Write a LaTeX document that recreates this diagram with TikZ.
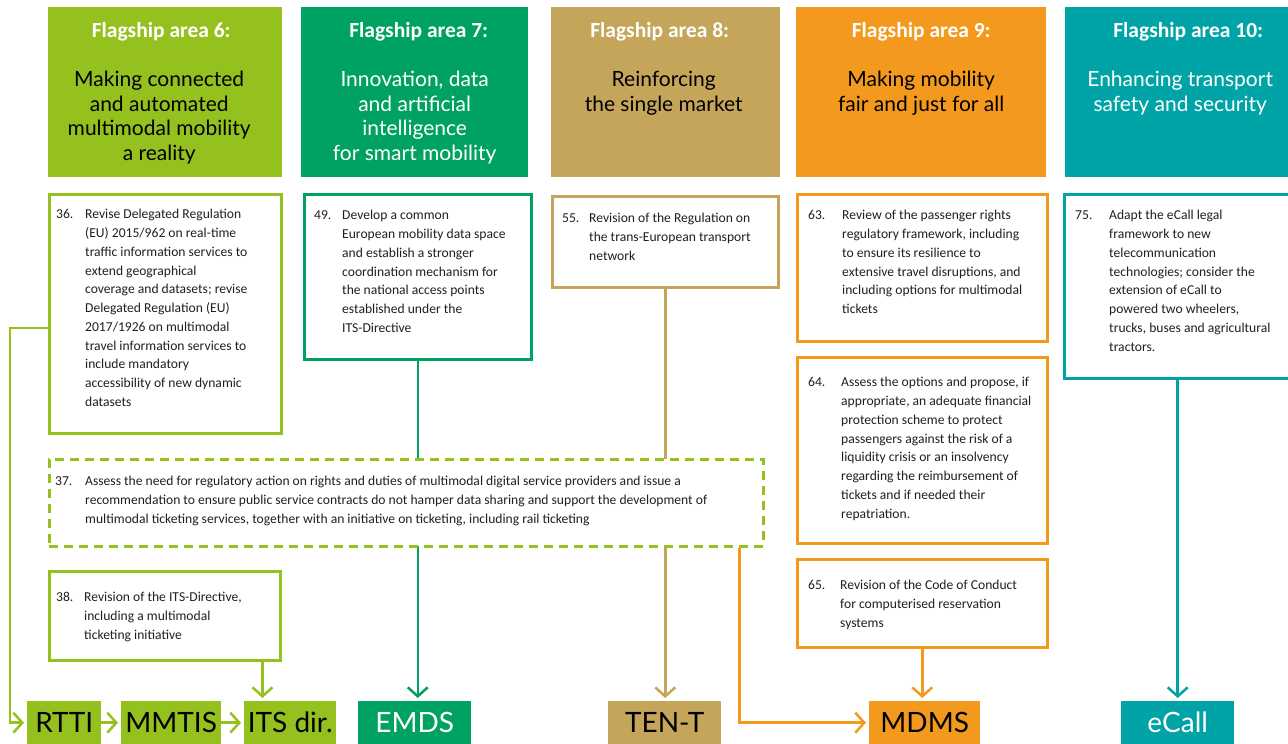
\documentclass[tikz,border=0pt]{standalone}
\usepackage{fontspec}
\setmainfont{Carlito}
\newfontfamily\hfont{Lato}
\usetikzlibrary{arrows.meta,calc}
\definecolor{clime}{HTML}{95C11F}
\definecolor{cgreen}{HTML}{00A261}
\definecolor{ctan}{HTML}{C5A55A}
\definecolor{corange}{HTML}{F39A1E}
\definecolor{cteal}{HTML}{00A3A6}
\definecolor{ctext}{HTML}{231F20}
\newcommand\itemtxt[3]{\begin{tabular}[t]{@{}p{#1}@{}l@{}}#2&\begin{tabular}[t]{@{}l@{}}#3\end{tabular}\end{tabular}}
\tikzset{
  hdr/.style={fill=#1, draw=none, anchor=north west, minimum width=228pt, minimum height=170pt, inner sep=0pt},
  htitle/.style={text=white, font=\fontsize{21.5}{24}\selectfont\bfseries, inner sep=0pt},
  hbody/.style={text=#1, font=\hfont\fontsize{21}{24.5}\selectfont, align=center, inner sep=0pt, anchor=north},
  frame/.style={draw=#1, line width=2.5pt, fill=white, anchor=north west, inner sep=0pt},
  itxt/.style={text=ctext, font=\fontsize{13.6}{18.75}\selectfont, anchor=north west, inner sep=0pt},
  lbl/.style={fill=#1, anchor=north west, minimum height=43pt, inner sep=0pt, font=\hfont\fontsize{28}{30}\selectfont},
  conn/.style={draw=#1, line width=2.5pt},
  arr/.style={conn=#1, -{Straight Barb[length=9pt,width=20pt,line width=2.5pt]}, shorten >=3pt},
}
\begin{document}
\begin{tikzpicture}[x=1pt,y=-1pt]
\useasboundingbox (0,0) rectangle (1288,744);
\clip (0,0) rectangle (1288,744);
% headers
\node[hdr=clime, minimum width=234pt] (h6) at (48,7) {};
\node[hdr=cgreen, minimum width=227pt] (h7) at (301,7) {};
\node[hdr=ctan, minimum width=229pt] (h8) at (551,7) {};
\node[hdr=corange, minimum width=250pt] (h9) at (796,7) {};
\node[hdr=cteal, minimum width=230pt] (h10) at (1065,7) {};
\node[htitle] (h6t) at ($(h6.north)+(-4,25)$) {Flagship area 6:};
\node[htitle] (h7t) at ($(h7.north)+(4,25)$) {Flagship area 7:};
\node[htitle] (h8t) at ($(h8.north)+(-6,25)$) {Flagship area 8:};
\node[htitle] (h9t) at ($(h9.north)+(0,25)$) {Flagship area 9:};
\node[htitle] (h10t) at ($(h10.north)+(8,25)$) {Flagship area 10:};
\node[hbody=black] (h6b) at ($(h6.north)+(-6,64)$) {Making connected\\and automated\\multimodal mobility\\a reality};
\node[hbody=white] (h7b) at ($(h7.north)+(0,64)$) {Innovation, data\\and artificial\\intelligence\\for smart mobility};
\node[hbody=black] (h8b) at ($(h8.north)+(-2,64)$) {Reinforcing\\the single market};
\node[hbody=black] (h9b) at ($(h9.north)+(0,64)$) {Making mobility\\fair and just for all};
\node[hbody=white] (h10b) at ($(h10.north)+(0,64)$) {Enhancing transport\\safety and security};
% bottom labels
\node[lbl=clime, minimum width=74pt] (rtti) at (27,701) {RTTI};
\node[lbl=clime, minimum width=100pt] (mmtis) at (121,701) {MMTIS};
\node[lbl=clime, minimum width=92pt] (itsdir) at (244,701) {ITS dir.};
\node[lbl=cgreen, minimum width=113pt, text=white] (emds) at (358,701) {EMDS};
\node[lbl=ctan, minimum width=113pt] (tent) at (608,701) {TEN-T};
\node[lbl=corange, minimum width=111pt] (mdms) at (869,701) {MDMS};
\node[lbl=cteal, minimum width=113pt, text=white] (ecall) at (1121,701) {eCall};
% frames
\node[frame=clime, minimum width=232pt, minimum height=239pt] (b36) at (48,193) {};
\node[frame=cgreen, minimum width=227pt, minimum height=165pt] (b49) at (303,193) {};
\node[frame=ctan, minimum width=226pt, minimum height=91pt] (b55) at (551,195) {};
\node[frame=corange, minimum width=250pt, minimum height=147pt] (b63) at (796,193) {};
\node[frame=corange, minimum width=250pt, minimum height=186pt] (b64) at (796,356) {};
\node[frame=corange, minimum width=250pt, minimum height=88pt] (b65) at (796,558) {};
\node[frame=cteal, minimum width=232pt, minimum height=184pt] (b75) at (1063,193) {};
\node[frame=clime, minimum width=231pt, minimum height=89pt] (b38) at (48,570) {};
% connectors under the dashed box
\draw[arr=cgreen] (b49.south) -- (b49.south |- emds.north);
\draw[arr=ctan] (b55.south) -- (b55.south |- tent.north);
% dashed box
\node[frame=clime, dash pattern=on 9pt off 6pt, minimum width=714pt, minimum height=87pt] (b37) at (48,458) {};
% other connectors
\coordinate (j1) at (10,328);
\draw[arr=clime] (b36.west |- j1) -- (j1) |- (rtti.west);
\draw[arr=clime] (rtti.east) -- (mmtis.west);
\draw[arr=clime] (mmtis.east) -- (itsdir.west);
\draw[arr=clime] ($(b38.south east)+(-19,0)$) coordinate (p38) -- (p38 |- itsdir.north);
\draw[arr=corange] ($(b37.south east)+(-25,0)$) coordinate (p37) |- (mdms.west);
\draw[arr=corange] (b65.south) -- (b65.south |- mdms.north);
\draw[arr=cteal] (ecall.north |- b75.south) -- (ecall.north);
% texts
\node[itxt] (t36) at ($(b36.north west)+(8,12.5)$) {\itemtxt{29pt}{36.}{Revise Delegated Regulation\\(EU) 2015/962 on real-time\\traffic information services to\\extend geographical\\coverage and datasets; revise\\Delegated Regulation (EU)\\2017/1926 on multimodal\\travel information services to\\include mandatory\\accessibility of new dynamic\\datasets}};
\node[itxt] (t49) at ($(b49.north west)+(11,13.5)$) {\itemtxt{28pt}{49.}{Develop a common\\European mobility data space\\and establish a stronger\\coordination mechanism for\\the national access points\\established under the\\ITS-Directive}};
\node[itxt] (t55) at ($(b55.north west)+(11,14.5)$) {\itemtxt{27pt}{55.}{Revision of the Regulation on\\the trans-European transport\\network}};
\node[itxt] (t63) at ($(b63.north west)+(12,13.5)$) {\itemtxt{34pt}{63.}{Review of the passenger rights\\regulatory framework, including\\to ensure its resilience to\\extensive travel disruptions, and\\including options for multimodal\\tickets}};
\node[itxt] (t64) at ($(b64.north west)+(12,17.5)$) {\itemtxt{33pt}{64.}{Assess the options and propose, if\\appropriate, an adequate financial\\protection scheme to protect\\passengers against the risk of a\\liquidity crisis or an insolvency\\regarding the reimbursement of\\tickets and if needed their\\repatriation.}};
\node[itxt] (t65) at ($(b65.north west)+(12,18.5)$) {\itemtxt{32pt}{65.}{Revision of the Code of Conduct\\for computerised reservation\\systems}};
\node[itxt] (t75) at ($(b75.north west)+(12,13.5)$) {\itemtxt{34pt}{75.}{Adapt the eCall legal\\framework to new\\telecommunication\\technologies; consider the\\extension of eCall to\\powered two wheelers,\\trucks, buses and agricultural\\tractors.}};
\node[itxt] (t37) at ($(b37.north west)+(7,14.5)$) {\itemtxt{30pt}{37.}{Assess the need for regulatory action on rights and duties of multimodal digital service providers and issue a\\recommendation to ensure public service contracts do not hamper data sharing and support the development of\\multimodal ticketing services, together with an initiative on ticketing, including rail ticketing}};
\node[itxt] (t38) at ($(b38.north west)+(8,18.5)$) {\itemtxt{28pt}{38.}{Revision of the ITS-Directive,\\including a multimodal\\ticketing initiative}};
\end{tikzpicture}
\end{document}
